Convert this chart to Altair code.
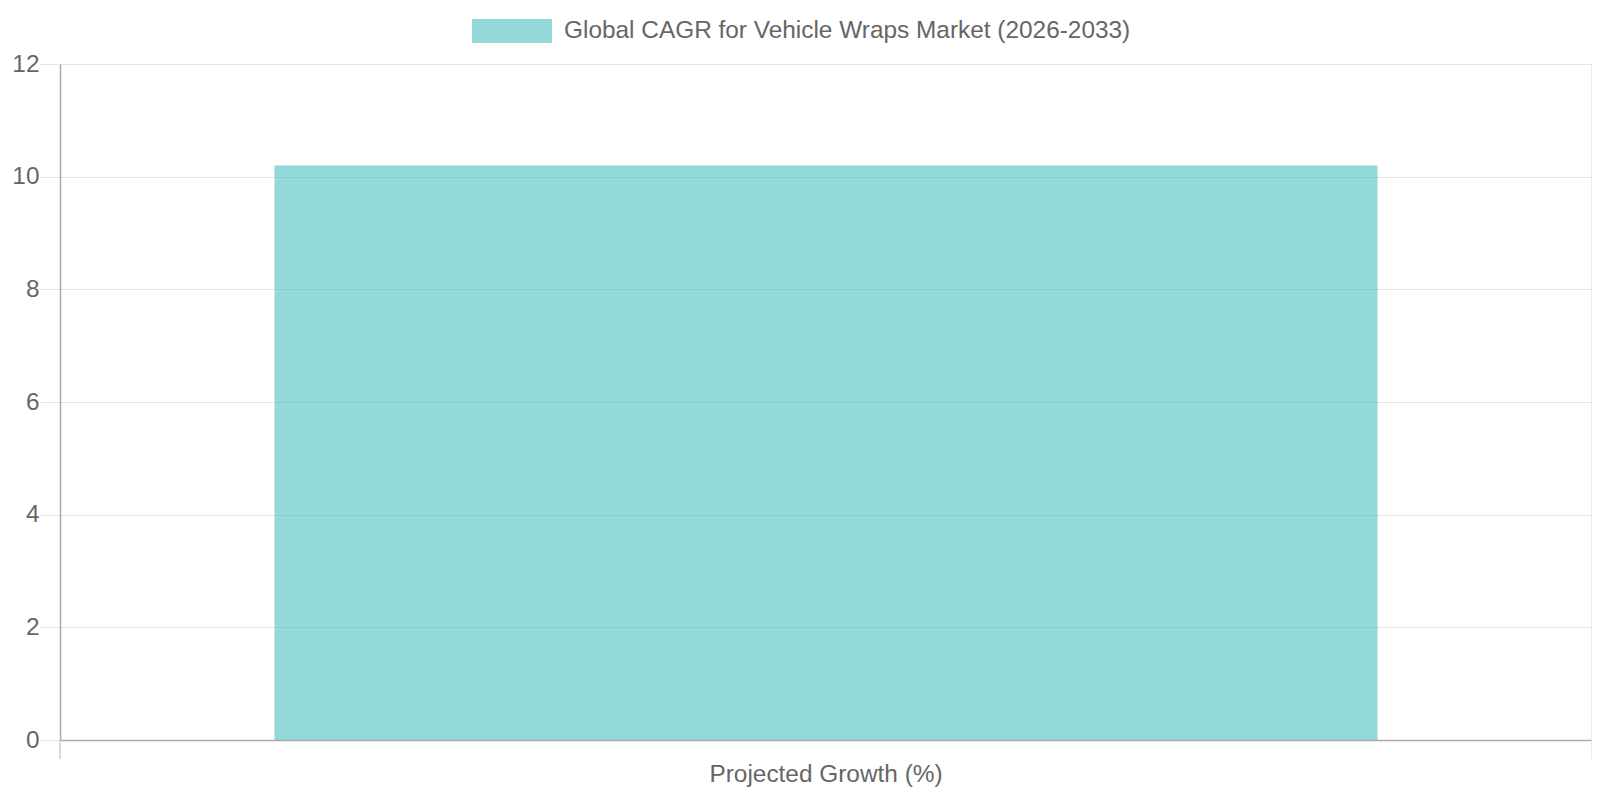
import altair as alt
import pandas as pd

categories = ["Projected Growth (%)"]
values = [10.2]
series = ["Global CAGR for Vehicle Wraps Market (2026-2033)"]

df = pd.DataFrame({"category": categories, "value": values, "series": series * len(categories)})

FONT = "Liberation Sans, Arial, Helvetica, sans-serif"
TEXT = "#666666"
GRID = "#e4e4e4"
AXIS = "#aaaaaa"
FS = 24.4
W, H = 1532, 676

x_scale = alt.Scale(paddingInner=0, paddingOuter=0)
x_axis = alt.Axis(labelAngle=0, labelAlign="center", labelBaseline="top",
                  bandPosition=0.5, labelFontSize=FS, labelColor=TEXT,
                  labelFont=FONT, ticks=False, grid=False, domainColor=AXIS,
                  domainWidth=1.5, labelPadding=22, labelLimit=1000)

bars = alt.Chart(df).mark_bar(width=alt.RelativeBandSize(0.72)).encode(
    x=alt.X("category:N", scale=x_scale, title=None, axis=x_axis),
    y=alt.Y("value:Q", title=None,
            scale=alt.Scale(domain=[0, 12], nice=False),
            axis=alt.Axis(values=[0, 2, 4, 6, 8, 10, 12], labelFontSize=FS, labelColor=TEXT,
                          labelFont=FONT, tickSize=20, tickColor=GRID, labelPadding=1,
                          gridColor=GRID, domainColor=AXIS, domainWidth=1.5)),
    color=alt.Color("series:N", title=None,
                    scale=alt.Scale(range=["rgba(75,192,192,0.6)"]),
                    legend=alt.Legend(orient="none", legendX=412, legendY=-73,
                                      symbolType="M-1,-0.3H1V0.3H-1Z", symbolSize=6400,
                                      symbolStrokeWidth=0, labelFontSize=FS, labelColor=TEXT,
                                      labelFont=FONT, labelOffset=12, padding=0,
                                      labelLimit=1000)),
)

edges_left = alt.Chart(df).mark_rule(color="#cccccc", strokeWidth=1.5).encode(
    x=alt.X("category:N", bandPosition=0, scale=x_scale, title=None, axis=x_axis),
    y=alt.value(H), y2=alt.value(H + 19),
)
edges_right = alt.Chart(df).mark_rule(color=GRID, strokeWidth=1.5).encode(
    x=alt.X("category:N", bandPosition=1, scale=x_scale, title=None, axis=x_axis),
    y=alt.value(0), y2=alt.value(H + 19),
)

chart = alt.layer(edges_left, edges_right, bars).properties(
    width=W, height=H,
    autosize=alt.AutoSizeParams(type="none"),
    padding={"left": 52, "top": 56, "right": 0, "bottom": 50},
).configure_view(stroke=None).configure(background="white")

chart.save("out.html", embed_options={"renderer": "svg", "actions": False})
